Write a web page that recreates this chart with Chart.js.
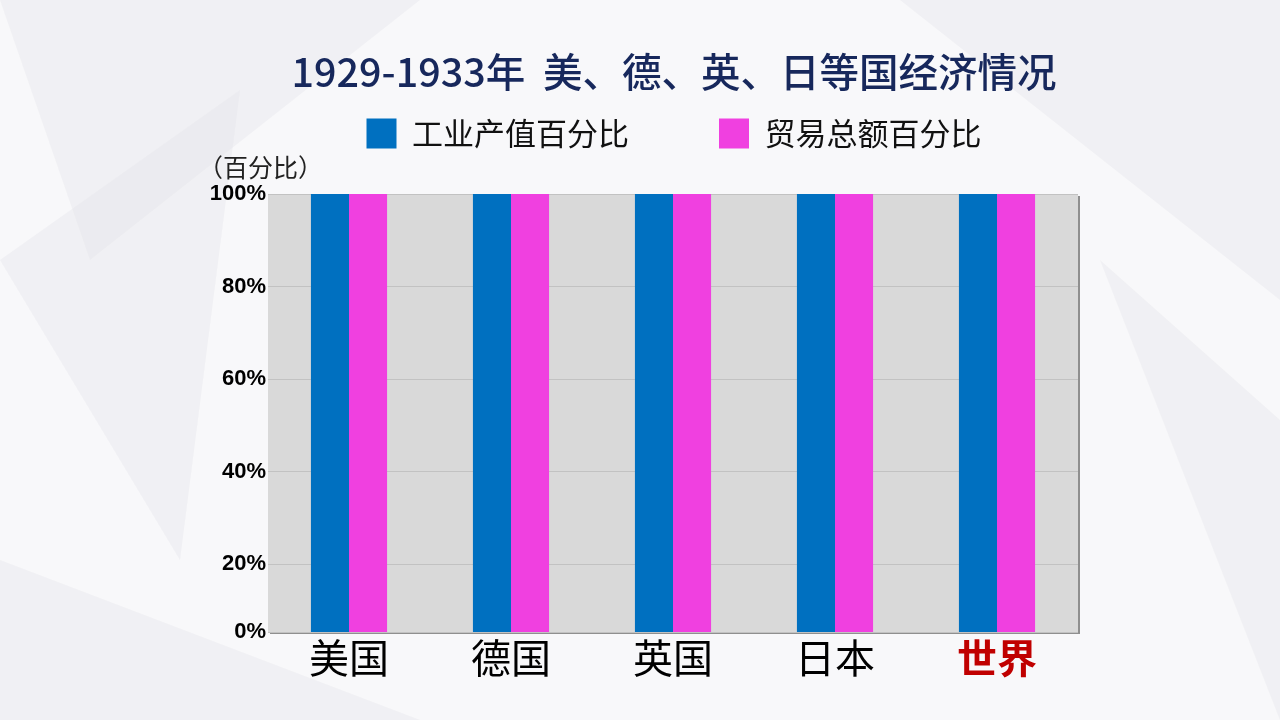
<!DOCTYPE html>
<html>
<head>
<meta charset="utf-8">
<script src="https://cdn.jsdelivr.net/npm/chart.js@4.4.0/dist/chart.umd.min.js"></script>
<style>
  html, body { margin: 0; padding: 0; background: #f6f6f8; overflow: hidden; }
</style>
</head>
<body>
<canvas id="myChart" width="1280" height="720"></canvas>
<script>
// data
var countries = ['美国', '德国', '英国', '日本', '世界'];
var industryPct = [100, 100, 100, 100, 100];
var tradePct = [100, 100, 100, 100, 100];
var yTicks = [0, 20, 40, 60, 80, 100];
var yTickLabels = ['0%', '20%', '40%', '60%', '80%', '100%'];
var yMin = 5.3; // the axis floor in the picture sits a bit above a true zero

// faint background shapes + plot panel with shadow
var backdrop = {
    id: 'backdrop',
    beforeDraw: function(chart) {
        var c = chart.ctx, a = chart.chartArea;
        c.save();
        c.fillStyle = '#f8f8fa';
        c.fillRect(0, 0, chart.width, chart.height);
        var polys = [
            [[0, 0], [420, 0], [90, 260]],
            [[0, 260], [240, 90], [180, 560]],
            [[1280, 0], [900, 0], [1280, 300]],
            [[1280, 420], [1100, 260], [1280, 720]],
            [[0, 720], [0, 560], [420, 720]]
        ];
        c.fillStyle = 'rgba(225,226,232,0.35)';
        polys.forEach(function(p) {
            c.beginPath();
            c.moveTo(p[0][0], p[0][1]);
            for (var i = 1; i < p.length; i++) c.lineTo(p[i][0], p[i][1]);
            c.closePath();
            c.fill();
        });
        // shadow
        c.fillStyle = '#8f8f8f';
        c.fillRect(a.left + 2, a.top + 2, a.right - a.left, a.bottom - a.top);
        c.fillStyle = '#d9d9d9';
        c.fillRect(a.left, a.top, a.right - a.left, a.bottom - a.top);
        c.restore();
    },
    afterDraw: function(chart) {
        var c = chart.ctx;
        c.save();
        c.font = '25px "Noto Sans CJK SC"';
        c.fillStyle = '#222';
        c.textBaseline = 'middle';
        c.fillText('（百分比）', 198, 167);
        c.restore();
    }
};

var hiddenAxis = {
    display: true,
    grid: { display: false, drawTicks: false },
    border: { display: false },
    ticks: { display: false }
};

var ctx = document.getElementById('myChart').getContext('2d');
var chart = new Chart(ctx, {
    type: 'bar',
    data: {
        labels: countries,
        datasets: [{
            label: '工业产值百分比',
            data: industryPct,
            backgroundColor: '#0070c0'
        }, {
            label: '贸易总额百分比',
            data: tradePct,
            backgroundColor: '#f040e0'
        }]
    },
    options: {
        responsive: false,
        animation: false,
        devicePixelRatio: 1,
        layout: { padding: { left: 68, right: 0, top: 0, bottom: 20 } },
        datasets: {
            bar: { categoryPercentage: 0.47, barPercentage: 1.0 }
        },
        scales: {
            x: {
                grid: { display: false, drawTicks: false },
                border: { display: false },
                ticks: {
                    padding: 2,
                    color: function(c) { return c.index === 4 ? '#c00000' : '#000'; },
                    font: function(c) {
                        return { family: '"Noto Sans CJK SC"', size: 40, weight: c.index === 4 ? 'bold' : 'normal' };
                    }
                },
                afterFit: function(s) { s.height = 68; }
            },
            xTop: Object.assign({}, hiddenAxis, {
                type: 'category', position: 'top',
                afterFit: function(s) { s.height = 35; }
            }),
            y: {
                min: yMin,
                max: 100,
                afterBuildTicks: function(s) {
                    s.ticks = yTicks.map(function(v) { return { value: Math.max(v, yMin) }; });
                },
                ticks: {
                    padding: 2,
                    color: '#000',
                    font: { family: '"Liberation Sans"', size: 22, weight: 'bold' },
                    callback: function(v, i) { return yTickLabels[i]; }
                },
                grid: {
                    color: '#c2c2c2',
                    drawTicks: false
                },
                border: { display: false },
                afterFit: function(s) { s.width = 200; }
            },
            yRight: Object.assign({}, hiddenAxis, {
                type: 'linear', position: 'right',
                afterFit: function(s) { s.width = 202; }
            })
        },
        plugins: {
            tooltip: { enabled: false },
            title: {
                display: true,
                text: '1929-1933年  美、德、英、日等国经济情况',
                color: '#17285c',
                font: { family: '"Noto Sans CJK SC"', size: 39.5, weight: '500' },
                padding: { top: 48, bottom: -67.4 }
            },
            legend: {
                display: true,
                labels: {
                    boxWidth: 30,
                    boxHeight: 30,
                    padding: 90,
                    color: '#111',
                    font: { family: '"Noto Sans CJK SC"', size: 31 }
                }
            }
        }
    },
    plugins: [backdrop]
});
</script>
</body>
</html>
